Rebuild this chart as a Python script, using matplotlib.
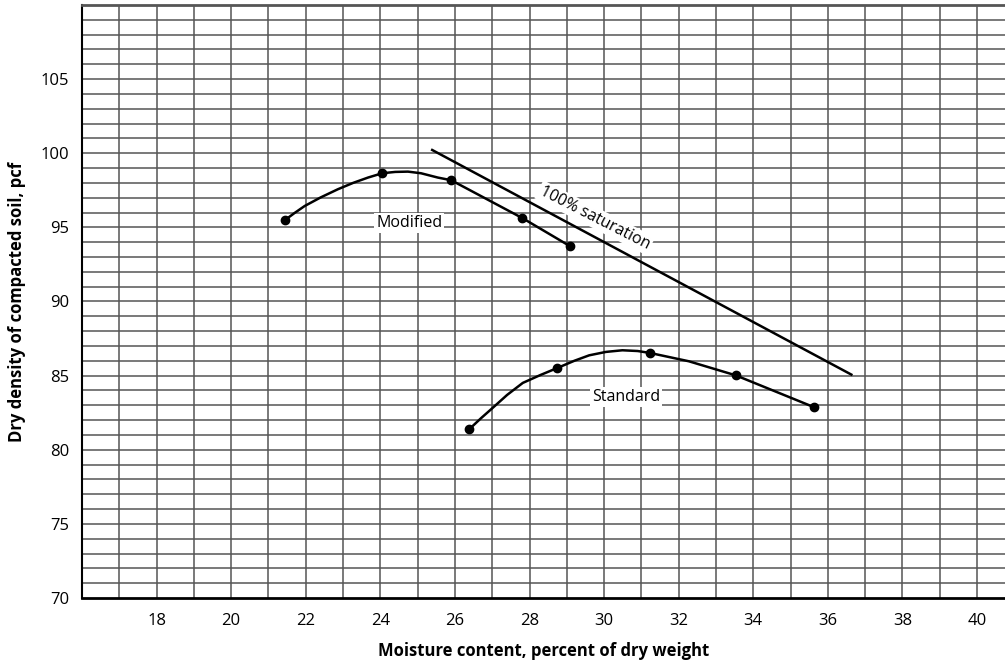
import matplotlib.pyplot as plt
import numpy as np

plt.rcParams['font.family'] = ['Open Sans', 'DejaVu Sans']

# puntos medidos
modified_x = [21.43, 24.05, 25.9, 27.8, 29.08]
modified_y = [95.5, 98.65, 98.18, 95.62, 93.75]
standard_x = [26.39, 28.75, 31.23, 33.53, 35.64]
standard_y = [81.4, 85.52, 86.53, 85.02, 82.86]

# trazado de las curvas
modified_curve_x = [21.43, 21.7, 21.97, 22.4, 22.86, 23.27, 23.67, 24.05, 24.4, 24.74, 25.09, 25.54, 25.9, 27.82, 29.08]
modified_curve_y = [95.47, 95.97, 96.44, 97.02, 97.57, 98.0, 98.36, 98.65, 98.74, 98.76, 98.65, 98.36, 98.18, 95.61, 93.74]
standard_curve_x = [26.39, 26.7, 27.01, 27.4, 27.82, 28.3, 28.75, 29.2, 29.6, 30.05, 30.49, 30.9, 31.23, 32.27, 33.53, 35.64]
standard_curve_y = [81.4, 82.13, 82.82, 83.7, 84.51, 85.05, 85.52, 86.0, 86.37, 86.6, 86.71, 86.66, 86.53, 85.97, 85.02, 82.86]

saturation_x = [25.39, 36.63]
saturation_y = [100.22, 85.07]

x_ticks = list(range(18, 41, 2))
y_ticks = list(range(70, 106, 5))

fig = plt.figure(figsize=(10.05, 6.63), dpi=100)
ax = fig.add_axes([0.0816, 0.098, 0.9184, 0.8945])

ax.set_xlim(16, 40.75)
ax.set_ylim(70, 110)

for xv in range(17, 41):
    ax.axvline(xv, color='#555555', lw=1.1, zorder=1)
for yv in range(71, 110):
    ax.axhline(yv, color='#555555', lw=1.1, zorder=1)

ax.plot(modified_curve_x, modified_curve_y, color='black', lw=1.8, zorder=3)
ax.plot(standard_curve_x, standard_curve_y, color='black', lw=1.8, zorder=3)
ax.plot(modified_x, modified_y, 'o', color='black', ms=6, zorder=4)
ax.plot(standard_x, standard_y, 'o', color='black', ms=6, zorder=4)
ax.plot(saturation_x, saturation_y, color='black', lw=1.8, zorder=3)

box = dict(facecolor='white', edgecolor='none', pad=1.5)
ax.text(24.77, 95.27, 'Modified', ha='center', va='center', fontsize=11.5, bbox=box, zorder=2)
ax.text(30.58, 83.58, 'Standard', ha='center', va='center', fontsize=11.5, bbox=box, zorder=2)
ax.text(29.75, 95.65, '100% saturation', ha='center', va='center', fontsize=11.5,
        rotation=-27, rotation_mode='anchor', bbox=box, zorder=2)

ax.set_xticks(x_ticks)
ax.set_yticks(y_ticks)
ax.tick_params(length=0, labelsize=12)
ax.tick_params(axis='x', pad=11)
ax.tick_params(axis='y', pad=9)

ax.spines['right'].set_visible(False)
ax.spines['bottom'].set_linewidth(2)
ax.spines['left'].set_linewidth(1.5)
ax.spines['top'].set_linewidth(2)
ax.spines['top'].set_color('#555555')

ax.set_xlabel('Moisture content, percent of dry weight', fontsize=12, fontweight='bold', labelpad=9)
ax.set_ylabel('Dry density of compacted soil, pcf', fontsize=12, fontweight='bold', labelpad=11)

fig.savefig('out.png', dpi=100)
